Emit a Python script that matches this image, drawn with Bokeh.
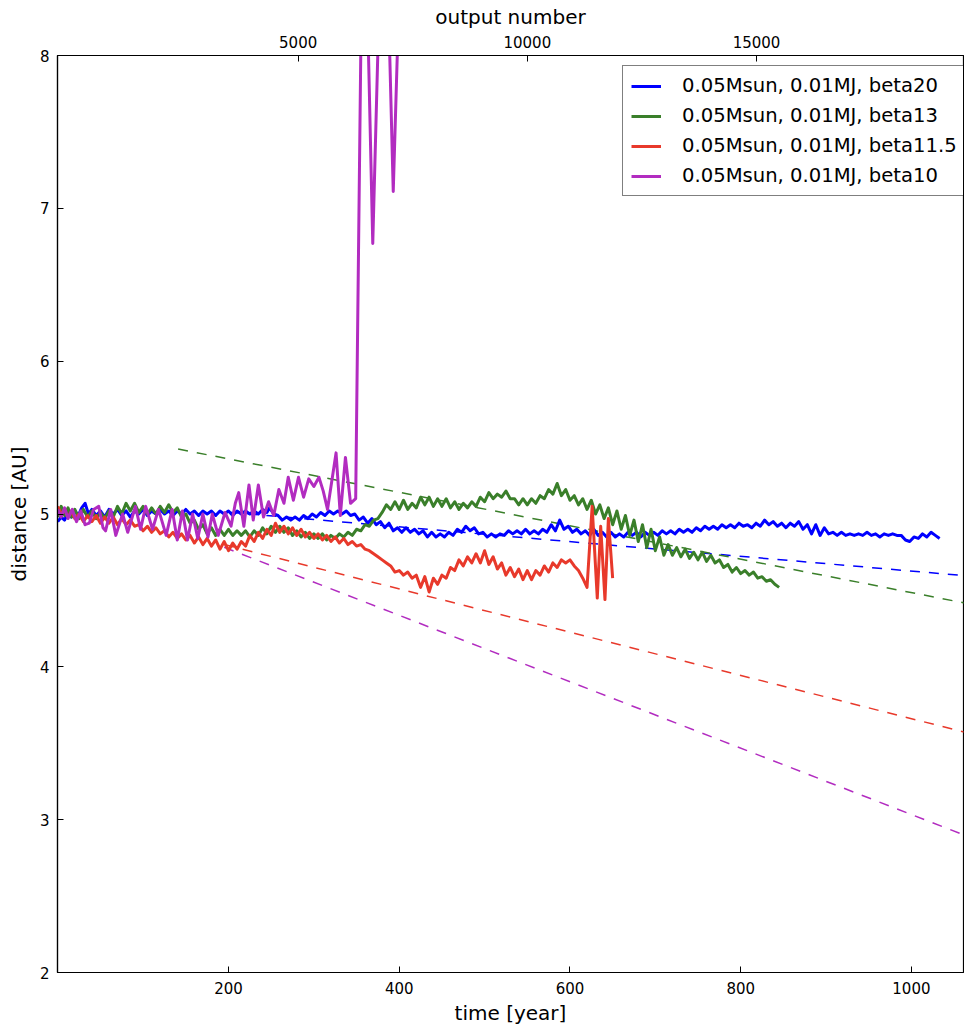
from bokeh.plotting import figure
from bokeh.models import Range1d, LinearAxis, FixedTicker, Legend, LegendItem
from bokeh.embed import file_html
from bokeh.resources import INLINE

# ---------------- data (time [year], distance [AU]) ----------------
BETA20 = [(0,4.95),(4,4.98),(8,4.96),(12,5.01),(16,4.98),(20,5.02),(24,4.99),(28,5.04),(32,5.07),(36,5.0),
 (40,5.03),(45,4.99),(50,5.02),(55,4.98),(60,5.03),(65,5.0),(70,5.03),(75,4.99),(80,5.02),(85,4.98),
 (90,5.02),(95,5.0),(100,5.03),(105,4.99),(110,5.02),(115,5.0),(120,5.03),(125,5.0),(130,5.02),(135,4.99),
 (140,5.02),(145,5.0),(150,5.03),(155,5.0),(160,5.02),(165,4.99),(170,5.02),(175,5.0),(180,5.02),(185,4.99),
 (190,5.02),(195,5.0),(200,5.02),(205,4.99),(210,5.02),(215,5.0),(220,5.02),(225,5.0),(230,5.02),(235,5.0),
 (240,5.03),(245,5.01),(248,5.04),(253,5.0),(258,4.99),(263,4.96),(268,4.98),(273,4.96),(278,4.98),(283,4.96),
 (288,4.99),(293,4.97),(298,5.0),(303,4.98),(308,5.01),(313,4.99),(318,5.02),(323,5.0),(328,5.02),(333,5.0),
 (338,5.02),(343,4.99),(348,5.0),(353,4.96),(358,4.98),(363,4.94),(368,4.97),(373,4.93),(378,4.95),(383,4.91),
 (388,4.94),(393,4.89),(398,4.91),(403,4.88),(408,4.91),(413,4.88),(418,4.9),(423,4.87),(428,4.89),(433,4.85),
 (438,4.88),(443,4.85),(448,4.87),(453,4.85),(458,4.88),(463,4.86),(468,4.9),(473,4.88),(478,4.92),(483,4.89),
 (488,4.91),(493,4.87),(498,4.88),(503,4.85),(508,4.87),(513,4.85),(518,4.87),(523,4.86),(528,4.89),(533,4.87),
 (538,4.89),(543,4.87),(548,4.9),(553,4.87),(558,4.89),(563,4.87),(568,4.9),(573,4.88),(578,4.93),(583,4.89),
 (588,4.96),(593,4.9),(598,4.92),(603,4.88),(608,4.9),(613,4.87),(618,4.89),(623,4.86),(628,4.9),(633,4.86),
 (638,4.88),(643,4.85),(648,4.88),(653,4.85),(658,4.87),(663,4.85),(668,4.88),(673,4.86),(678,4.88),(683,4.85),
 (688,4.88),(693,4.86),(698,4.88),(703,4.86),(708,4.89),(713,4.87),(718,4.89),(723,4.87),(728,4.9),(733,4.88),
 (738,4.9),(743,4.88),(748,4.91),(753,4.89),(758,4.92),(763,4.9),(768,4.92),(773,4.9),(778,4.93),(783,4.91),
 (788,4.93),(793,4.91),(798,4.94),(803,4.92),(808,4.93),(813,4.91),(818,4.94),(823,4.92),(828,4.96),(833,4.93),
 (838,4.95),(843,4.92),(848,4.94),(853,4.91),(858,4.94),(863,4.92),(868,4.95),(873,4.9),(878,4.93),(883,4.87),
 (888,4.93),(893,4.86),(898,4.91),(903,4.87),(908,4.88),(913,4.86),(918,4.88),(923,4.86),(928,4.87),(933,4.86),
 (938,4.87),(943,4.86),(948,4.88),(953,4.86),(958,4.87),(963,4.85),(968,4.87),(973,4.86),(978,4.87),(983,4.86),
 (988,4.86),(993,4.83),(998,4.82),(1003,4.85),(1008,4.84),(1013,4.87),(1018,4.85),(1023,4.88),(1028,4.86),(1033,4.84)]

BETA13 = [(0,4.98),(4,5.05),(8,4.99),(12,5.04),(16,4.98),(20,5.03),(25,4.97),(30,5.03),(35,4.98),(40,5.02),
 (45,4.97),(50,5.01),(55,4.97),(60,5.02),(65,4.98),(70,5.05),(75,5.0),(80,5.07),(85,5.02),(90,5.07),
 (95,5.01),(100,5.05),(105,5.0),(110,5.04),(115,5.0),(120,5.05),(125,5.01),(130,5.06),(135,5.01),(140,5.04),
 (145,4.98),(150,5.0),(155,4.94),(160,4.96),(165,4.9),(170,4.93),(175,4.87),(180,4.91),(185,4.86),(190,4.9),
 (195,4.86),(200,4.9),(205,4.86),(210,4.89),(215,4.86),(220,4.89),(225,4.85),(230,4.89),(235,4.86),(240,4.91),
 (245,4.87),(250,4.92),(255,4.88),(260,4.92),(265,4.88),(270,4.91),(275,4.86),(280,4.89),(285,4.85),(290,4.88),
 (295,4.84),(300,4.87),(305,4.84),(310,4.87),(315,4.83),(320,4.86),(325,4.84),(330,4.87),(335,4.85),(340,4.88),
 (345,4.86),(350,4.9),(355,4.89),(360,4.93),(365,4.92),(370,4.96),(375,4.97),(380,5.01),(385,5.06),(390,5.03),
 (395,5.08),(400,5.03),(405,5.09),(410,5.03),(415,5.07),(420,5.04),(425,5.11),(430,5.06),(435,5.11),(440,5.05),
 (445,5.1),(450,5.05),(455,5.1),(460,5.04),(465,5.08),(470,5.03),(475,5.07),(480,5.04),(485,5.08),(490,5.05),
 (495,5.11),(500,5.08),(505,5.14),(510,5.1),(515,5.13),(520,5.11),(525,5.15),(530,5.1),(535,5.1),(540,5.06),
 (545,5.1),(550,5.06),(555,5.1),(560,5.07),(565,5.12),(570,5.1),(575,5.16),(580,5.13),(585,5.2),(590,5.12),
 (595,5.16),(600,5.09),(605,5.12),(610,5.06),(615,5.1),(620,5.03),(625,5.09),(630,5.0),(635,5.06),(640,4.97),
 (645,5.04),(650,4.93),(655,5.02),(660,4.9),(665,4.99),(670,4.86),(675,4.96),(680,4.82),(685,4.93),(690,4.78),
 (695,4.9),(700,4.76),(705,4.85),(710,4.73),(715,4.8),(720,4.73),(725,4.78),(730,4.72),(735,4.77),(740,4.71),
 (745,4.75),(750,4.7),(755,4.75),(760,4.69),(765,4.73),(770,4.68),(775,4.7),(780,4.65),(785,4.67),(790,4.62),
 (795,4.65),(800,4.61),(805,4.63),(810,4.6),(815,4.62),(820,4.58),(825,4.59),(830,4.56),(835,4.57),(840,4.54),
 (845,4.52)]

BETA115 = [(0,5.05),(4,5.0),(8,5.03),(12,4.98),(16,5.02),(20,4.97),(25,5.0),(30,4.95),(35,4.99),(40,4.95),
 (45,4.99),(50,4.94),(55,4.98),(60,4.94),(65,4.98),(70,4.93),(75,4.97),(80,4.93),(85,4.96),(90,4.92),
 (95,4.93),(100,4.89),(105,4.92),(110,4.88),(115,4.91),(120,4.87),(125,4.89),(130,4.85),(135,4.88),(140,4.84),
 (145,4.87),(150,4.83),(155,4.86),(160,4.81),(165,4.85),(170,4.8),(175,4.84),(180,4.79),(185,4.83),(190,4.77),
 (195,4.82),(200,4.76),(205,4.81),(210,4.77),(215,4.82),(220,4.79),(225,4.86),(230,4.82),(235,4.88),(240,4.84),
 (245,4.9),(250,4.86),(255,4.94),(260,4.88),(265,4.92),(270,4.87),(275,4.91),(280,4.86),(285,4.9),(290,4.85),
 (295,4.88),(300,4.84),(305,4.87),(310,4.83),(315,4.86),(320,4.82),(325,4.85),(330,4.81),(335,4.84),(340,4.8),
 (345,4.82),(350,4.79),(355,4.8),(360,4.77),(365,4.76),(370,4.74),(375,4.72),(380,4.7),(385,4.68),(390,4.66),
 (395,4.62),(400,4.63),(405,4.6),(410,4.62),(415,4.58),(420,4.6),(425,4.52),(430,4.59),(435,4.49),(440,4.58),
 (445,4.54),(450,4.6),(455,4.58),(460,4.65),(465,4.63),(470,4.7),(475,4.66),(480,4.72),(485,4.68),(490,4.74),
 (495,4.68),(500,4.76),(505,4.67),(510,4.72),(515,4.64),(520,4.68),(525,4.6),(530,4.65),(535,4.59),(540,4.64),
 (545,4.57),(550,4.63),(555,4.57),(560,4.63),(565,4.6),(570,4.66),(575,4.62),(580,4.68),(585,4.65),(590,4.7),
 (595,4.68),(600,4.7),(605,4.66),(610,4.63),(615,4.58),(620,4.52),(626,5.05),(632,4.45),(636,4.92),(641,4.44),
 (645,4.97),(650,4.58)]

BETA10 = [(0,5.03),(4,4.98),(8,5.04),(12,4.97),(17,5.03),(22,4.95),(27,5.02),(32,4.93),(37,4.94),(42,5.03),
 (48,5.05),(53,4.91),(56,4.89),(62,5.03),(68,4.86),(76,5.0),(82,4.88),(91,5.05),(97,4.9),(103,5.05),
 (111,4.9),(118,5.03),(127,4.86),(134,5.03),(140,4.83),(146,5.02),(152,4.83),(158,5.0),(164,4.84),(170,5.0),
 (176,4.85),(181,5.0),(188,4.86),(196,5.01),(203,4.92),(208,5.07),(212,5.14),(218,4.92),(224,5.19),(229,4.96),
 (235,5.19),(241,4.98),(247,5.08),(253,4.99),(259,5.16),(265,5.07),(270,5.24),(276,5.09),(282,5.24),(288,5.11),
 (294,5.23),(300,5.18),(306,5.24),(311,5.15),(316,5.03),(326,5.4),(331,4.99),(337,5.37),(343,5.07),(349,5.1),
 (358,9.5),(369,6.77),(382,9.5),(393,7.11),(403,9.0)]

# fitted migration trends (start, end)
FIT20 = [(200, 5.012), (1062, 4.597)]
FIT13 = [(141, 5.425), (1062, 4.418)]
FIT115 = [(195, 4.80), (1062, 3.573)]
FIT10 = [(195, 4.782), (1062, 2.899)]

LABELS = ["0.05Msun, 0.01MJ, beta20", "0.05Msun, 0.01MJ, beta13",
          "0.05Msun, 0.01MJ, beta11.5", "0.05Msun, 0.01MJ, beta10"]
COLORS = ["#0000ff", "#3a7f2a", "#e8392b", "#b22cc0"]

X_TICKS = [200, 400, 600, 800, 1000]
Y_TICKS = [2, 3, 4, 5, 6, 7, 8]
TOP_TICKS = [5000, 10000, 15000]

FONT = "DejaVu Sans"

p = figure(frame_width=906, frame_height=917,
           x_range=Range1d(-0.3, 1061), y_range=Range1d(2, 8),
           output_backend="svg", toolbar_location=None,
           min_border_left=57, min_border_right=1, min_border_top=55, min_border_bottom=55,
           background_fill_color="white", border_fill_color="white")
p.extra_x_ranges = {"out": Range1d(-250, 19515)}
p.grid.visible = False
p.outline_line_color = "black"
p.outline_line_width = 1.2

def style_axis(ax):
    ax.major_tick_in = 6
    ax.major_tick_out = 0
    ax.minor_tick_line_color = None
    ax.axis_line_color = "black"
    ax.axis_line_width = 1.2
    ax.major_tick_line_color = "black"
    ax.major_label_text_font = FONT
    ax.major_label_text_font_size = "15px"
    ax.major_label_text_color = "black"
    ax.axis_label_text_font = FONT
    ax.axis_label_text_font_size = "20px"
    ax.axis_label_text_font_style = "normal"
    ax.axis_label_text_color = "black"

p.xaxis.ticker = FixedTicker(ticks=X_TICKS)
p.yaxis.ticker = FixedTicker(ticks=Y_TICKS)
p.xaxis.axis_label = "time [year]"
p.yaxis.axis_label = "distance [AU]"
style_axis(p.xaxis[0])
style_axis(p.yaxis[0])
p.xaxis.major_label_standoff = 9
p.xaxis.axis_label_standoff = 4
p.yaxis.major_label_standoff = 8
p.yaxis.axis_label_standoff = 6

top = LinearAxis(x_range_name="out", axis_label="output number",
                 ticker=FixedTicker(ticks=TOP_TICKS))
style_axis(top)
top.major_label_standoff = 8
top.axis_label_standoff = 4
p.add_layout(top, "above")

series = [BETA20, BETA13, BETA115, BETA10]
fits = [FIT20, FIT13, FIT115, FIT10]
items = []
for s, f, c, lab in zip(series, fits, COLORS, LABELS):
    fx = [a for a, b in f]
    fy = [b for a, b in f]
    p.line(fx, fy, line_color=c, line_width=1.5, line_dash="10 9")
for s, f, c, lab in zip(series, fits, COLORS, LABELS):
    sx = [a for a, b in s]
    sy = [b for a, b in s]
    r = p.line(sx, sy, line_color=c, line_width=3, line_join="round")
    items.append(LegendItem(label=lab, renderers=[r]))

legend = Legend(items=items, location=(565, 776), margin=0,
                label_text_font=FONT, label_text_font_size="19.6px",
                label_text_color="black",
                glyph_width=30, glyph_height=20, label_standoff=21,
                padding=8, spacing=7,
                border_line_color="black", border_line_width=1.2,
                background_fill_color="white", background_fill_alpha=1.0)
p.add_layout(legend)

open("out.html", "w").write(file_html(p, INLINE))
